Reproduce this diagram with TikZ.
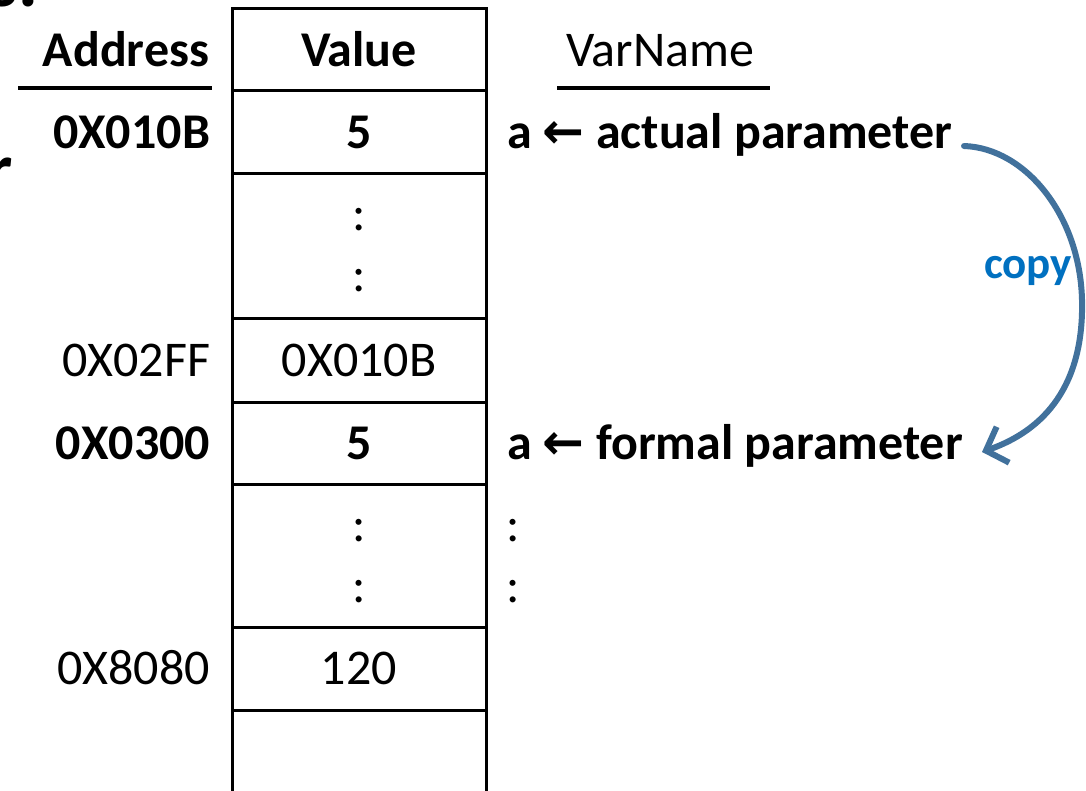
\documentclass[tikz,border=0pt]{standalone}
\usepackage{fontspec}
\setmainfont{Carlito}
\newfontfamily\symfont{DejaVu Sans}
\usetikzlibrary{arrows.meta}
\definecolor{arrowblue}{HTML}{41719C}
\definecolor{copyblue}{HTML}{0070C0}
\begin{document}
\begin{tikzpicture}[x=1pt,y=-1pt,
  every node/.style={inner sep=0pt,outer sep=0pt,font=\fontsize{50}{60}\selectfont},
  bold/.style={font=\fontsize{50}{60}\selectfont\bfseries},
  cell/.style={draw,line width=3pt,minimum width=254pt,anchor=north west},
  addr/.style={anchor=base east},
  val/.style={anchor=base},
  var/.style={anchor=base west,bold},
  dots/.style={anchor=base},
  headrule/.style={line width=4pt},
  copyarrow/.style={draw=arrowblue,line width=6pt,line cap=round,
    -{Straight Barb[length=18pt,width=38pt,line width=6pt]}},
  frag/.style={font=\fontsize{74}{80}\selectfont\bfseries}]
\useasboundingbox (0,0) rectangle (1086,790);
\clip (0,0) rectangle (1086,790);

% pieces of surrounding text at the edge
\node[frag,anchor=base east] (fragtop) at (38,6) {s.};
\node[frag,anchor=base east] (fragleft) at (13,194) {r};

% memory column
\node[cell,minimum height=82pt] (c0) at (232,8) {};
\node[cell,minimum height=83pt] (c1) at (232,90) {};
\node[cell,minimum height=145pt] (c2) at (232,173) {};
\node[cell,minimum height=84pt] (c3) at (232,318) {};
\node[cell,minimum height=82pt] (c4) at (232,402) {};
\node[cell,minimum height=143pt] (c5) at (232,484) {};
\node[cell,minimum height=83pt] (c6) at (232,627) {};
\node[cell,minimum height=120pt] (c7) at (232,710) {};

% headers
\node[val,bold] (addrhead) at (126,66) {Address};
\node[val,bold] (valhead) at (359,66) {Value};
\node[val] (varhead) at (660,66) {VarName};
\coordinate (ulA1) at (18,88);
\coordinate (ulA2) at (212,88);
\coordinate (ulV1) at (557,88);
\coordinate (ulV2) at (770,88);
\draw[headrule] (ulA1) -- (ulA2);
\draw[headrule] (ulV1) -- (ulV2);

% addresses
\node[addr,bold] (a1) at (210,148) {0X010B};
\node[addr] (a2) at (210,376) {0X02FF};
\node[addr,bold] (a3) at (210,459) {0X0300};
\node[addr] (a4) at (210,684) {0X8080};

% values
\node[val,bold] (v1) at (359,148) {5};
\node[dots] (d1) at (359,230) {:};
\node[dots] (d2) at (359,291) {:};
\node[val] (v2) at (359,376) {0X010B};
\node[val,bold] (v3) at (359,459) {5};
\node[dots] (d3) at (359,541) {:};
\node[dots] (d4) at (359,602) {:};
\node[val] (v4) at (359,684) {120};

% variable names
\node[var] (actual) at (507,148) {a {\symfont\bfseries ←} actual parameter};
\node[var] (formal) at (507,459) {a {\symfont\bfseries ←} formal parameter};
\node[dots] (d5) at (513,541) {:};
\node[dots] (d6) at (513,602) {:};

% copy arrow
\coordinate (cpstart) at (964,146);
\coordinate (cpmid) at (1082,300);
\coordinate (cpend) at (982,452);
\draw[copyarrow] (cpstart) .. controls (1025,148) and (1080,215) .. (cpmid)
  .. controls (1084,385) and (1045,430) .. (cpend);
\node[anchor=base,text=copyblue,font=\fontsize{45}{54}\selectfont\bfseries] (copy) at (1028,278) {copy};
\end{tikzpicture}
\end{document}
